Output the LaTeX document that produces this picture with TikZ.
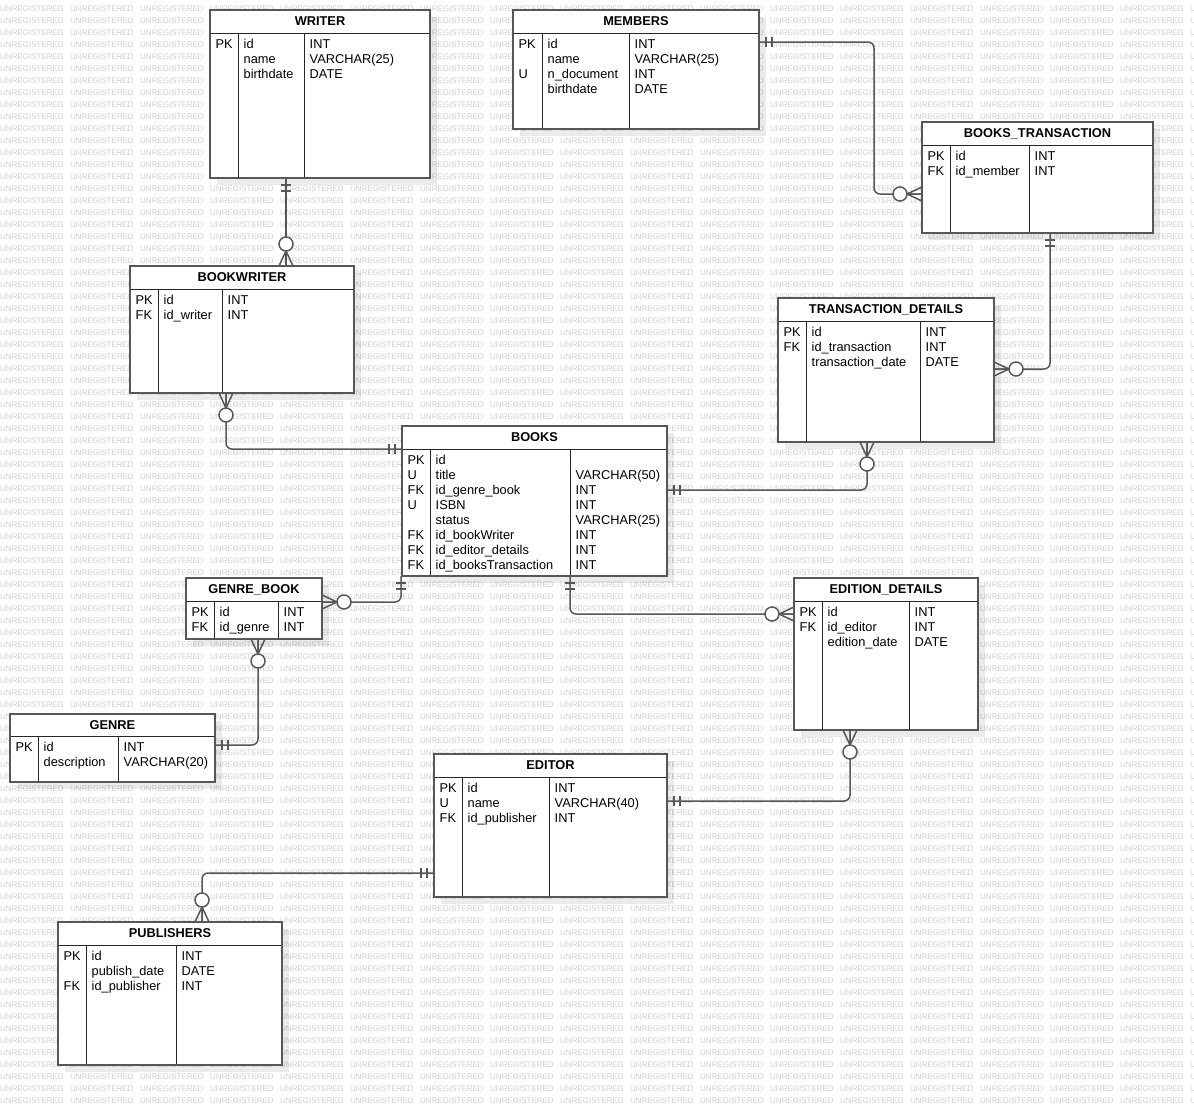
\documentclass[tikz,border=0pt]{standalone}
\usepackage{fontspec}
\setmainfont{Liberation Sans}
\usetikzlibrary{fit}

\tikzset{
  wm/.style={anchor=west, inner sep=0pt, text=black!19, font=\fontsize{8pt}{9.6pt}\selectfont},
  tblfill/.style={fill=white, draw=none, inner sep=0pt, outer sep=0pt},
  tblborder/.style={draw=black!66, line width=1.6pt},
  tblshadow/.style={fill=black, opacity=0.08},
  inner/.style={draw=black!85, line width=1pt},
  ttl/.style={anchor=base, inner sep=0pt, font=\fontsize{12.8pt}{15pt}\selectfont\bfseries},
  cell/.style={anchor=base west, inner sep=0pt, font=\fontsize{12.8pt}{15pt}\selectfont},
  rel/.style={draw=black!66, line width=1.5pt},
  relpath/.style={rel, rounded corners=6pt},
  mone/.pic={\draw[rel] (7,-5) -- (7,5) (13,-5) -- (13,5);},
  zmany/.pic={\draw[rel] (15,0) -- (0,-7) (15,0) -- (0,7) (15,0) -- (0,0);
              \draw[rel, fill=white] (22,0) circle[radius=7];},
}

% #1 name, #2 left, #3 top, #4 right, #5 bottom, #6 header rule, #7 key rule, #8 type rule, #9 title
\newcommand\ertable[9]{%
  \fill[tblshadow] (#2+7,#3+7) rectangle (#4+7,#5+7);
  \node[tblfill, fit={(#2,#3) (#4,#5)}] (#1) {};
  \draw[inner] (#2,#6) -- (#4,#6) (#7,#6) -- (#7,#5) (#8,#6) -- (#8,#5);
  \draw[tblborder] (#1.south west) rectangle (#1.north east);
  \node[ttl] (#1-title) at ({(#2+#4)/2},{(#3+#6)/2+4.1}) {#9};
}
% #1 name, #2 left, #3 key rule, #4 type rule, #5 header rule, #6 rows key/name/type
\newcommand\errows[6]{%
  \foreach \k/\n/\t [count=\i from 0] in {#6} {
    \node[cell] (#1-k\i) at (#2+5.5, #5+15.5+15*\i) {\k};
    \node[cell] (#1-n\i) at (#3+5.5, #5+15.5+15*\i) {\n};
    \node[cell] (#1-t\i) at (#4+5.5, #5+15.5+15*\i) {\t};
  }%
}

\begin{document}
\begin{tikzpicture}[x=1pt, y=-1pt]
  \fill[white] (0,0) rectangle (1194,1106);
  \useasboundingbox (0,0) rectangle (1194,1106);

  % tiled background watermark
  \foreach \r in {0,...,91} {
    \foreach \c in {0,...,17} {
      \node[wm] at (\c*70, 9+\r*12) {UNREGISTERED};
    }
  }

  % tables
  \ertable{writer}{210}{10}{430}{178}{33}{238}{304}{WRITER}
  \errows{writer}{210}{238}{304}{33}{PK/id/INT, {}/name/VARCHAR(25), {}/birthdate/DATE}

  \ertable{members}{513}{10}{759}{129}{33}{542}{629}{MEMBERS}
  \errows{members}{513}{542}{629}{33}{PK/id/INT, {}/name/VARCHAR(25), U/n\_document/INT, {}/birthdate/DATE}

  \ertable{bt}{922}{122}{1153}{233}{145}{950}{1029}{BOOKS\_TRANSACTION}
  \errows{bt}{922}{950}{1029}{145}{PK/id/INT, FK/id\_member/INT}

  \ertable{bookwriter}{130}{266}{354}{393}{289}{158}{222}{BOOKWRITER}
  \errows{bookwriter}{130}{158}{222}{289}{PK/id/INT, FK/id\_writer/INT}

  \ertable{td}{778}{298}{994}{442}{321}{806}{920}{TRANSACTION\_DETAILS}
  \errows{td}{778}{806}{920}{321}{PK/id/INT, FK/id\_transaction/INT, {}/transaction\_date/DATE}

  \ertable{books}{402}{426}{667}{576}{449}{430}{570}{BOOKS}
  \errows{books}{402}{430}{570}{449}{PK/id/{}, U/title/VARCHAR(50), FK/id\_genre\_book/INT, U/ISBN/INT, {}/status/VARCHAR(25), FK/id\_bookWriter/INT, FK/id\_editor\_details/INT, FK/id\_booksTransaction/INT}

  \ertable{genrebook}{186}{578}{322}{639}{601}{214}{278}{GENRE\_BOOK}
  \errows{genrebook}{186}{214}{278}{601}{PK/id/INT, FK/id\_genre/INT}

  \ertable{ed}{794}{578}{978}{730}{601}{822}{909}{EDITION\_DETAILS}
  \errows{ed}{794}{822}{909}{601}{PK/id/INT, FK/id\_editor/INT, {}/edition\_date/DATE}

  \ertable{genre}{10}{714}{215}{782}{736}{38}{118}{GENRE}
  \errows{genre}{10}{38}{118}{736}{PK/id/INT, {}/description/VARCHAR(20)}

  \ertable{editor}{434}{754}{667}{897}{777}{462}{549}{EDITOR}
  \errows{editor}{434}{462}{549}{777}{PK/id/INT, U/name/VARCHAR(40), FK/id\_publisher/INT}

  \ertable{publishers}{58}{922}{282}{1065}{945}{86}{176}{PUBLISHERS}
  \errows{publishers}{58}{86}{176}{945}{PK/id/INT, {}/publish\_date/DATE, FK/id\_publisher/INT}

  % relationship end points
  \coordinate (r1a) at ([xshift=-34pt]writer.south);
  \coordinate (r1b) at ([xshift=44pt]bookwriter.north);
  \coordinate (r2a) at ([yshift=-32pt]members.north east);
  \coordinate (r2b) at ([yshift=-72pt]bt.north west);
  \coordinate (r3a) at ([xshift=12.5pt]bt.south);
  \coordinate (r3b) at ([yshift=-71pt]td.north east);
  \coordinate (r4a) at ([xshift=-16pt]bookwriter.south);
  \coordinate (r4b) at ([yshift=-23pt]books.north west);
  \coordinate (r5a) at ([xshift=-19pt]td.south);
  \coordinate (r5b) at ([yshift=-64pt]books.north east);
  \coordinate (r6a) at ([xshift=-1pt]books.south west);
  \coordinate (r6b) at ([yshift=-24pt]genrebook.north east);
  \coordinate (r7a) at ([xshift=168pt]books.south west);
  \coordinate (r7b) at ([yshift=-36pt]ed.north west);
  \coordinate (r8a) at ([xshift=4pt]genrebook.south);
  \coordinate (r8b) at ([yshift=-31pt]genre.north east);
  \coordinate (r9a) at ([xshift=-36pt]ed.south);
  \coordinate (r9b) at ([yshift=-47pt]editor.north east);
  \coordinate (r10a) at ([yshift=-119pt]editor.north west);
  \coordinate (r10b) at ([xshift=32pt]publishers.north);

  % relationship lines
  \draw[relpath] (r1a) -- (r1b);
  \draw[relpath] (r2a) -| ([xshift=-48pt]r2b) -- (r2b);
  \draw[relpath] (r3a) |- (r3b);
  \draw[relpath] (r4a) |- (r4b);
  \draw[relpath] (r5a) |- (r5b);
  \draw[relpath] (r6a) |- (r6b);
  \draw[relpath] (r7a) |- (r7b);
  \draw[relpath] (r8a) |- (r8b);
  \draw[relpath] (r9a) |- (r9b);
  \draw[relpath] (r10a) -| (r10b);

  % cardinality marks
  \pic[rotate=-90] at (r1a) {mone};
  \pic[rotate=90]  at (r1b) {zmany};
  \pic[rotate=0]   at (r2a) {mone};
  \pic[rotate=180] at (r2b) {zmany};
  \pic[rotate=-90] at (r3a) {mone};
  \pic[rotate=0]   at (r3b) {zmany};
  \pic[rotate=-90] at (r4a) {zmany};
  \pic[rotate=180] at (r4b) {mone};
  \pic[rotate=-90] at (r5a) {zmany};
  \pic[rotate=0]   at (r5b) {mone};
  \pic[rotate=-90] at (r6a) {mone};
  \pic[rotate=0]   at (r6b) {zmany};
  \pic[rotate=-90] at (r7a) {mone};
  \pic[rotate=180] at (r7b) {zmany};
  \pic[rotate=-90] at (r8a) {zmany};
  \pic[rotate=0]   at (r8b) {mone};
  \pic[rotate=-90] at (r9a) {zmany};
  \pic[rotate=0]   at (r9b) {mone};
  \pic[rotate=180] at (r10a) {mone};
  \pic[rotate=90]  at (r10b) {zmany};
\end{tikzpicture}
\end{document}
